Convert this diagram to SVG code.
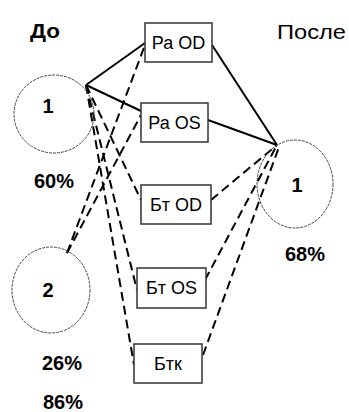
<svg xmlns="http://www.w3.org/2000/svg" width="349" height="412" viewBox="0 0 349 412">
<style>
.circ{fill:none;stroke:#444;stroke-width:1;stroke-dasharray:3 1}
.box{fill:#fff;stroke:#333;stroke-width:1.5}
.solid{stroke:#000;stroke-width:2;fill:none}
.dash{stroke:#000;stroke-width:2;fill:none;stroke-dasharray:9 5}
.big{font-family:"Liberation Sans",Arial,sans-serif;font-weight:bold;font-size:20px;fill:#000}
.lbl{font-family:"Liberation Sans",Arial,sans-serif;font-size:18px;fill:#000}
.hdr{font-family:"Liberation Sans",Arial,sans-serif;font-size:20px;fill:#000}
</style>
<rect width="349" height="412" fill="#fff"/>
<text class="hdr" x="30" y="38" font-weight="bold" textLength="30" lengthAdjust="spacingAndGlyphs">До</text>
<text class="hdr" x="277" y="39" textLength="69" lengthAdjust="spacingAndGlyphs">После</text>
<g id="connectors">
<line class="solid" x1="86" y1="85" x2="145" y2="43"/>
<line class="solid" x1="86" y1="85" x2="141" y2="111"/>
<line class="dash" x1="86" y1="85" x2="141" y2="200"/>
<line class="dash" x1="86" y1="85" x2="137" y2="290"/>
<line class="dash" x1="86" y1="85" x2="134" y2="365"/>
<line class="dash" x1="67" y1="253" x2="145" y2="45"/>
<line class="dash" x1="67" y1="253" x2="141" y2="115"/>
<line class="solid" x1="212" y1="45" x2="277" y2="145"/>
<line class="solid" x1="208" y1="120" x2="277" y2="145"/>
<line class="dash" x1="211" y1="200" x2="277" y2="145"/>
<line class="dash" x1="205" y1="280" x2="277" y2="145"/>
<line class="dash" x1="203" y1="355" x2="279" y2="147"/>
</g>
<g id="before1">
<ellipse class="circ" cx="54" cy="114" rx="40" ry="39"/>
<text class="big" x="48" y="113" text-anchor="middle">1</text>
<text class="big" x="54" y="188" text-anchor="middle">60%</text>
</g>
<g id="before2">
<ellipse class="circ" cx="51" cy="290" rx="39" ry="43"/>
<text class="big" x="48" y="297" text-anchor="middle">2</text>
<text class="big" x="62" y="370" text-anchor="middle">26%</text>
</g>
<text class="big" x="63" y="409" text-anchor="middle">86%</text>
<g id="after1">
<ellipse class="circ" cx="295" cy="184" rx="38" ry="44"/>
<text class="big" x="297" y="192" text-anchor="middle">1</text>
<text class="big" x="305" y="261" text-anchor="middle">68%</text>
</g>
<g id="paOD">
<rect class="box" x="145" y="23" width="67" height="39"/>
<text class="lbl" x="178.5" y="49" text-anchor="middle">Ра OD</text>
</g>
<g id="paOS">
<rect class="box" x="141" y="103" width="67" height="39"/>
<text class="lbl" x="174.5" y="129" text-anchor="middle">Ра OS</text>
</g>
<g id="btOD">
<rect class="box" x="141" y="185" width="70" height="39"/>
<text class="lbl" x="176" y="211" text-anchor="middle">Бт OD</text>
</g>
<g id="btOS">
<rect class="box" x="137" y="268" width="69" height="40"/>
<text class="lbl" x="171.5" y="294" text-anchor="middle">Бт OS</text>
</g>
<g id="btk">
<rect class="box" x="134" y="344" width="68" height="39"/>
<text class="lbl" x="168" y="370" text-anchor="middle">Бтк</text>
</g>
</svg>
